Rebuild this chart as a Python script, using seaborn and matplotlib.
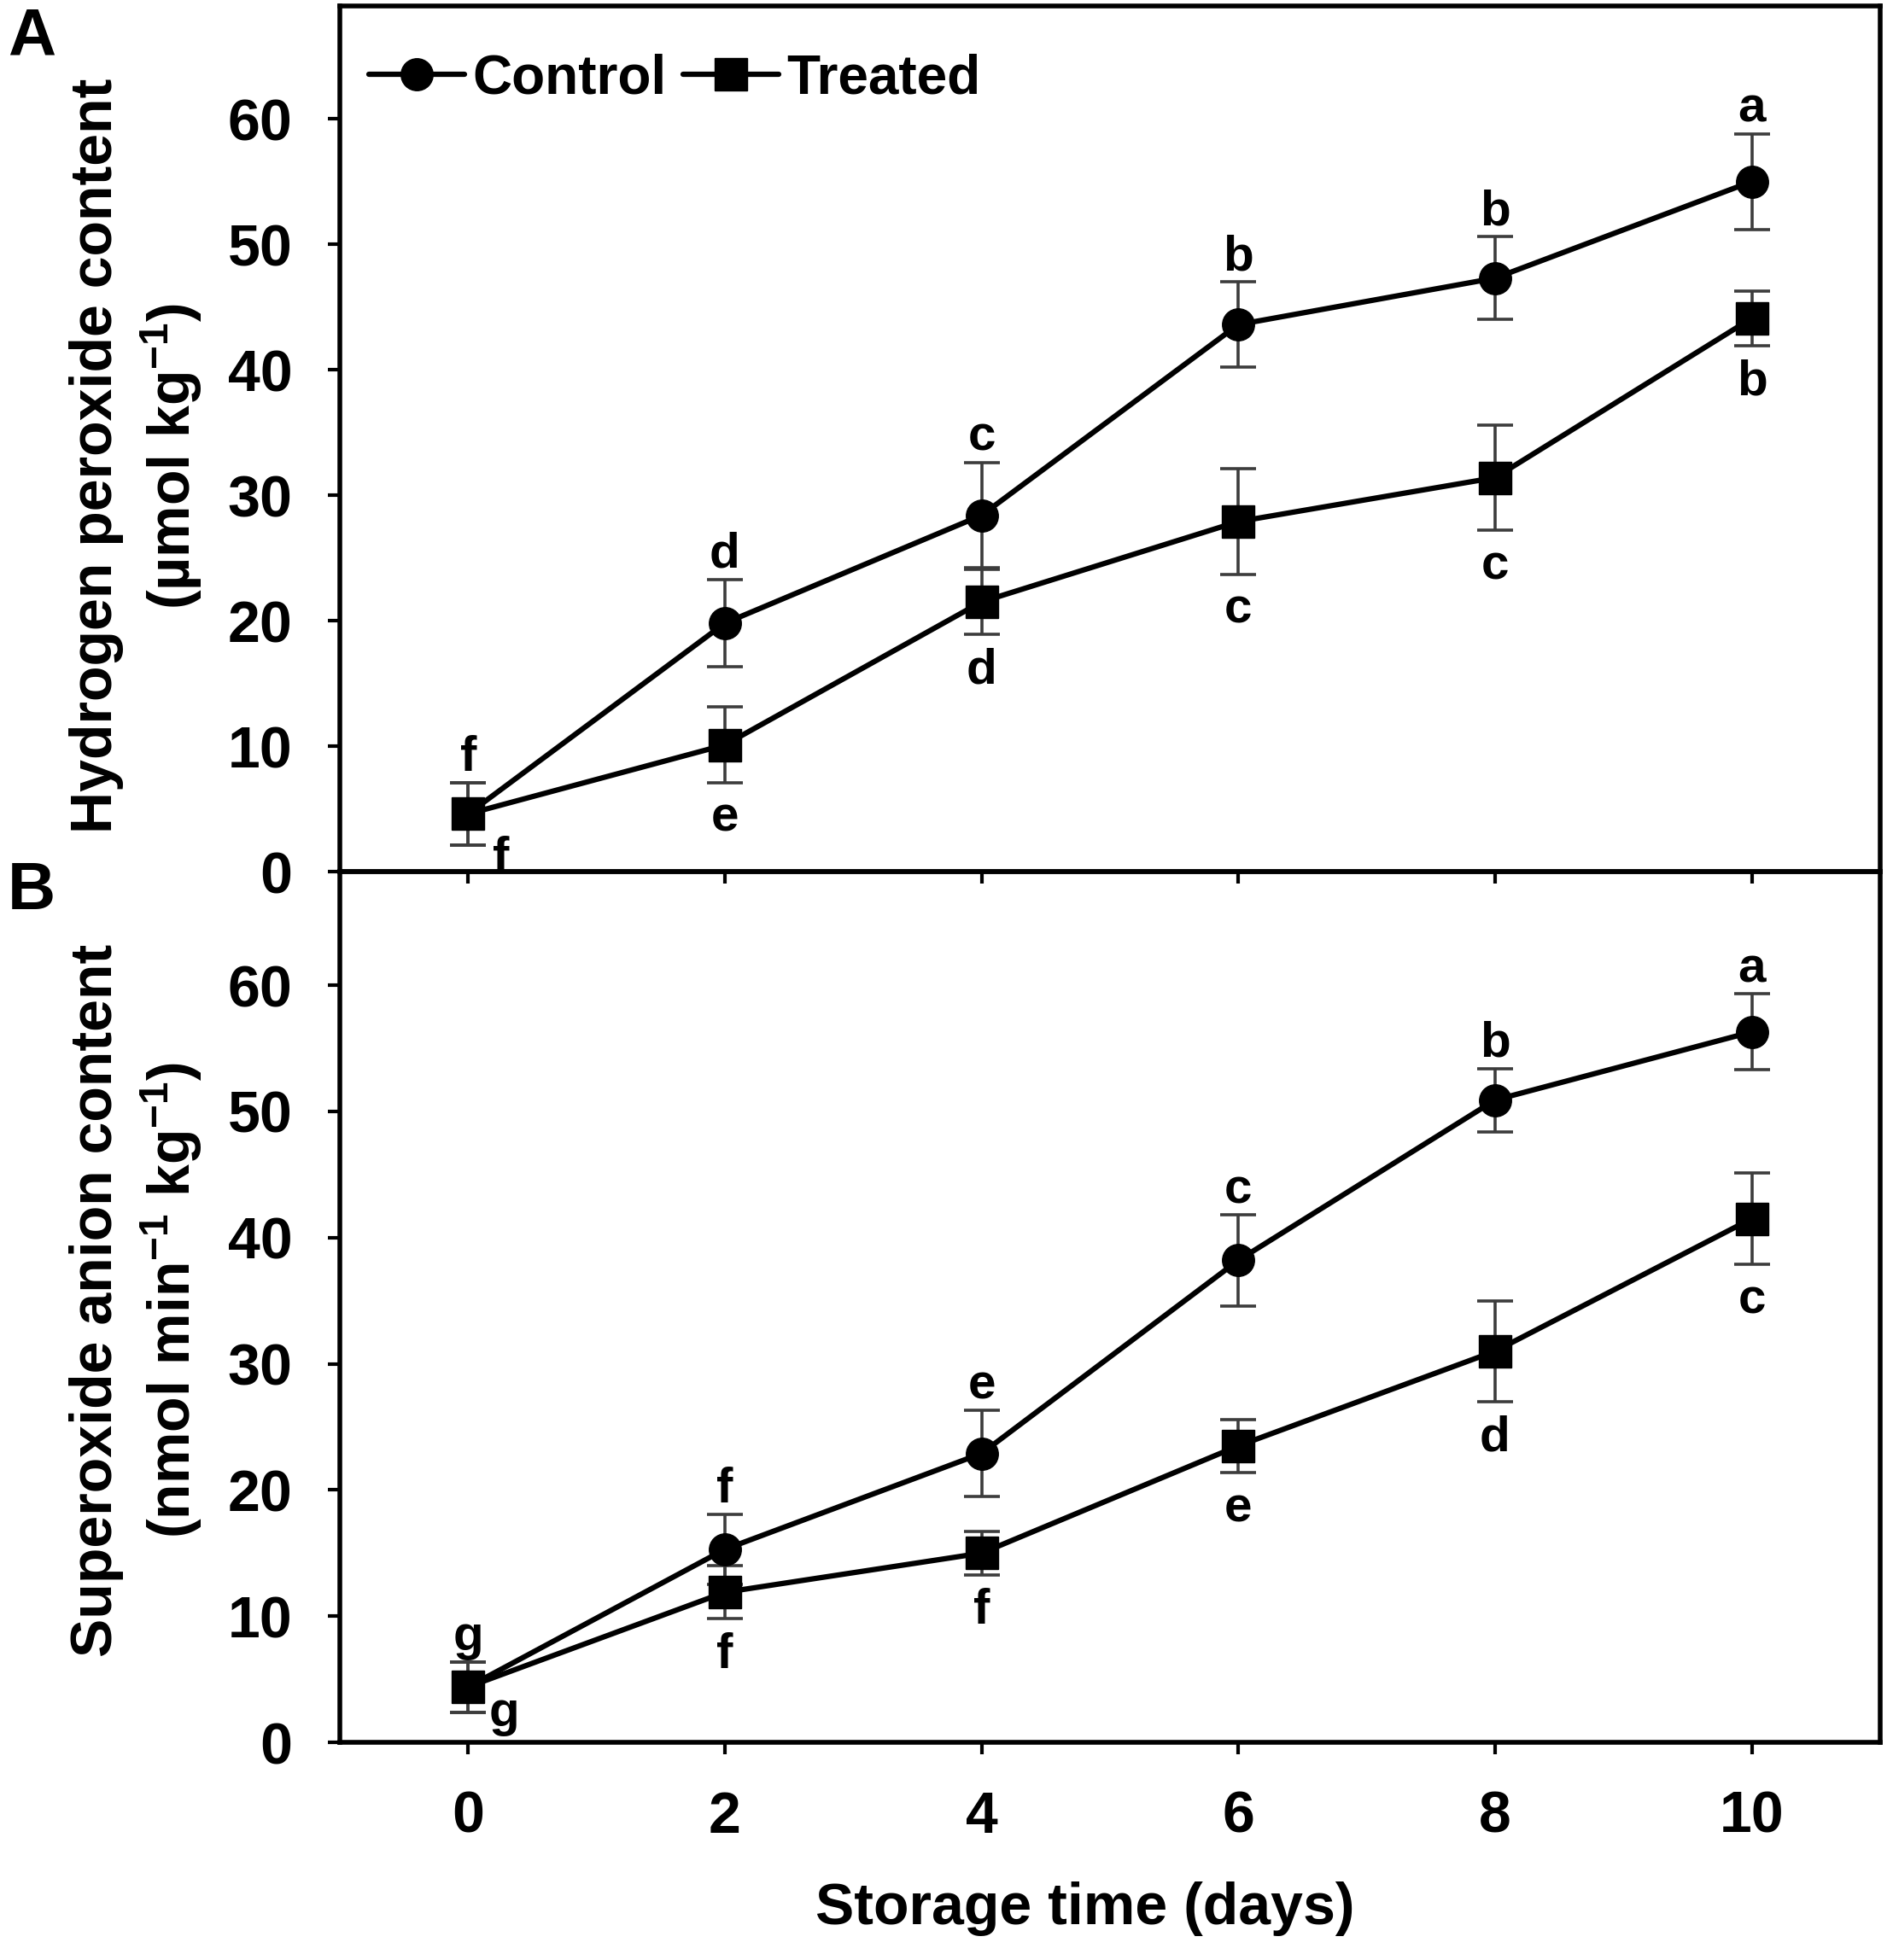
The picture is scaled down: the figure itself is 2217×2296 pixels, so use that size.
import numpy as np
import pandas as pd
import matplotlib
matplotlib.use("Agg")
import matplotlib.pyplot as plt
from matplotlib.lines import Line2D
import seaborn as sns

# values
days = [0, 2, 4, 6, 8, 10]

h2o2_control = [4.6, 19.8, 28.4, 43.6, 47.3, 55.0]
h2o2_control_err = [2.5, 3.5, 4.2, 3.4, 3.3, 3.8]
h2o2_treated = [4.6, 10.1, 21.5, 27.9, 31.4, 44.1]
h2o2_treated_err = [2.5, 3.0, 2.6, 4.2, 4.2, 2.2]

o2_control = [4.4, 15.3, 22.9, 38.2, 50.9, 56.3]
o2_control_err = [2.0, 2.8, 3.4, 3.6, 2.5, 3.0]
o2_treated = [4.4, 11.9, 15.0, 23.5, 31.0, 41.5]
o2_treated_err = [2.0, 2.1, 1.7, 2.1, 4.0, 3.6]

h2o2_control_letters = ["f", "d", "c", "b", "b", "a"]
h2o2_treated_letters = ["f", "e", "d", "c", "c", "b"]
o2_control_letters = ["g", "f", "e", "c", "b", "a"]
o2_treated_letters = ["g", "f", "f", "e", "d", "c"]

groups = ["Control", "Treated"]
y_ticks = [0, 10, 20, 30, 40, 50, 60]

sns.set_style("ticks")
plt.rcParams["font.family"] = ["Liberation Sans", "DejaVu Sans"]
plt.rcParams["font.weight"] = "bold"
plt.rcParams["text.color"] = "black"
plt.rcParams["axes.labelcolor"] = "black"
plt.rcParams["xtick.color"] = "black"
plt.rcParams["ytick.color"] = "black"
plt.rcParams["mathtext.fontset"] = "custom"
plt.rcParams["mathtext.rm"] = "Liberation Sans:bold"
plt.rcParams["mathtext.bf"] = "Liberation Sans:bold"
plt.rcParams["mathtext.it"] = "Liberation Sans:bold"
plt.rcParams["mathtext.sf"] = "Liberation Sans:bold"
plt.rcParams["mathtext.default"] = "rm"

FS = 49
LFS = 42
LW = 4.5
MS = 27

fig = plt.figure(figsize=(22.17, 22.96), dpi=100)
axA = fig.add_axes([0.1795, 0.5553, 0.8137, 0.4417])
axB = fig.add_axes([0.1795, 0.1110, 0.8137, 0.4443])


def draw_panel(ax, ctrl, ctrl_err, trt, trt_err, ctrl_let, trt_let, first_off):
    df = pd.DataFrame({
        "day": days * 2,
        "value": ctrl + trt,
        "group": [groups[0]] * len(days) + [groups[1]] * len(days),
    })
    ax.errorbar(days, ctrl, yerr=ctrl_err, fmt="none", ecolor="#3c3c3c",
                elinewidth=2.6, capsize=15, capthick=2.6, zorder=1)
    ax.errorbar(days, trt, yerr=trt_err, fmt="none", ecolor="#3c3c3c",
                elinewidth=2.6, capsize=15, capthick=2.6, zorder=1)
    sns.lineplot(data=df, x="day", y="value", style="group",
                 markers={"Control": "o", "Treated": "s"}, dashes=False,
                 color="black", linewidth=LW, markersize=MS,
                 markeredgecolor="black", markeredgewidth=1,
                 legend=False, ax=ax, zorder=3)

    for d, v, e, t in zip(days, ctrl, ctrl_err, ctrl_let):
        ax.annotate(t, (d, v + e), xytext=(0, 10), textcoords="offset points",
                    ha="center", va="baseline", fontsize=LFS, fontweight="bold")
    for i, (d, v, e, t) in enumerate(zip(days, trt, trt_err, trt_let)):
        if i == 0:
            ax.annotate(t, (d, v), xytext=first_off, textcoords="offset points",
                        ha="center", va="center", fontsize=LFS, fontweight="bold")
        else:
            ax.annotate(t, (d, v - e), xytext=(0, -11), textcoords="offset points",
                        ha="center", va="top", fontsize=LFS, fontweight="bold")

    ax.set_xlim(-1, 11)
    ax.set_ylim(0, 69)
    ax.set_yticks(y_ticks)
    ax.set_xticks(days)
    ax.patch.set_alpha(0)
    for s in ax.spines.values():
        s.set_linewidth(4)
        s.set_color("black")
        s.set_visible(True)
    ax.tick_params(axis="both", direction="out", length=10, width=3,
                   labelsize=FS, color="black", labelcolor="black",
                   top=False, right=False)
    ax.tick_params(axis="y", pad=30)
    ax.tick_params(axis="x", pad=30)
    for lab in ax.get_xticklabels() + ax.get_yticklabels():
        lab.set_fontweight("bold")


draw_panel(axA, h2o2_control, h2o2_control_err, h2o2_treated, h2o2_treated_err,
           h2o2_control_letters, h2o2_treated_letters, (28, -38))
draw_panel(axB, o2_control, o2_control_err, o2_treated, o2_treated_err,
           o2_control_letters, o2_treated_letters, (30, -22))

axA.tick_params(axis="x", labelbottom=False)
axA.set_xlabel("")
axA.set_ylabel("Hydrogen peroxide content\n(µmol kg$^{-1}$)", fontsize=FS,
               fontweight="bold", linespacing=1.3, va="center")
axA.yaxis.set_label_coords(-0.132, 0.48)

axB.set_ylabel("Superoxide anion content\n(nmol min$^{-1}$ kg$^{-1}$)", fontsize=FS,
               fontweight="bold", linespacing=1.3, va="center")
axB.yaxis.set_label_coords(-0.132, 0.508)
axB.set_xlabel("Storage time (days)", fontsize=FS, fontweight="bold", va="center")
axB.xaxis.set_label_coords(0.484, -0.191)

handles = [
    Line2D([], [], color="black", linewidth=LW, marker="o", markersize=MS),
    Line2D([], [], color="black", linewidth=LW, marker="s", markersize=MS),
]
axA.legend(handles, groups, loc="center left", bbox_to_anchor=(0.019, 0.916),
           ncol=2, frameon=False, handlelength=1.75, handletextpad=0.15,
           columnspacing=0.3, borderpad=0, borderaxespad=0,
           prop={"size": 46, "weight": "bold"})

fig.text(0.0167, 0.981, "A", fontsize=56, fontweight="bold", ha="center", va="center")
fig.text(0.0167, 0.545, "B", fontsize=56, fontweight="bold", ha="center", va="center")

fig.savefig("out.png", dpi=100)
